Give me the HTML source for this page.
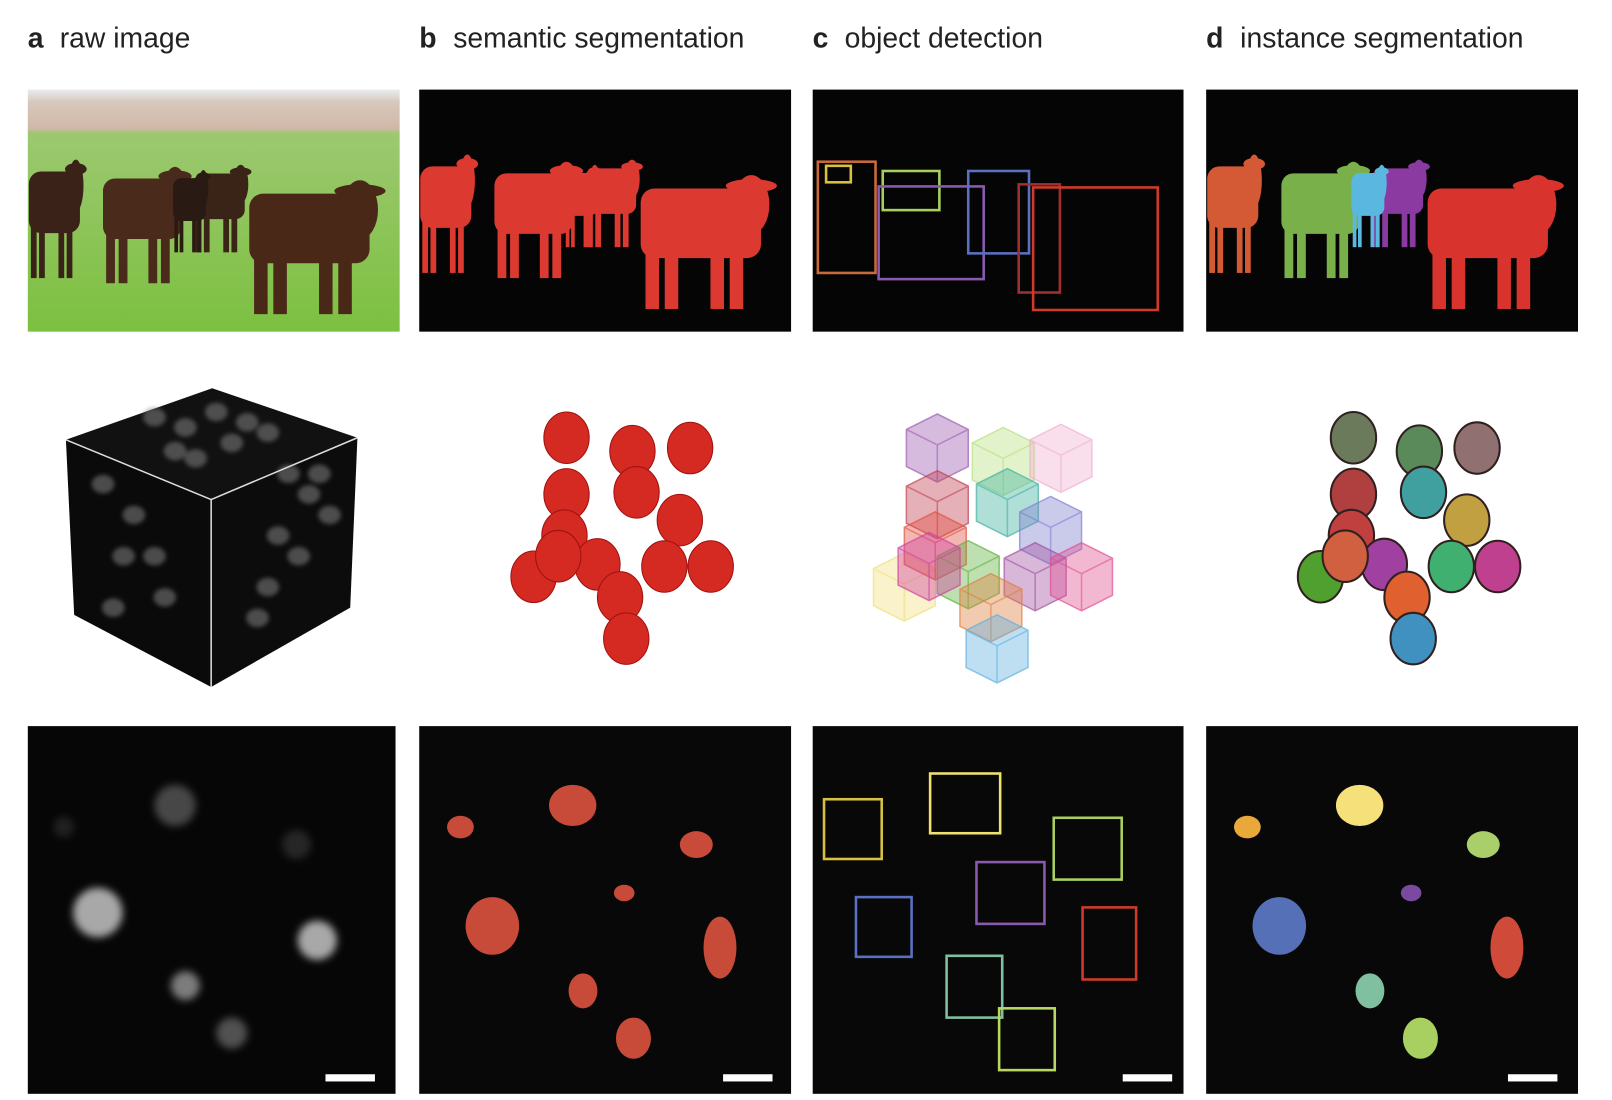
<!DOCTYPE html>
<html><head><meta charset="utf-8"><style>
html,body{margin:0;padding:0;background:#fff;}
svg{display:block;font-family:"Liberation Sans",sans-serif;}
</style></head><body>
<svg id="fig" width="1612" height="1100" viewBox="0 0 1565 1068" preserveAspectRatio="none" xmlns="http://www.w3.org/2000/svg">
<defs>
<filter id="blur3"><feGaussianBlur stdDeviation="4"/></filter>
<filter id="blur1"><feGaussianBlur stdDeviation="2"/></filter>
<linearGradient id="field" x1="0" y1="0" x2="0" y2="1"><stop offset="0" stop-color="#e9ecef"/><stop offset="0.05" stop-color="#d8c8bc"/><stop offset="0.16" stop-color="#d0b8a8"/><stop offset="0.18" stop-color="#9cc870"/><stop offset="1" stop-color="#7cc040"/></linearGradient>
<clipPath id="clipA"><rect x="27" y="87" width="361" height="235"/></clipPath>
<clipPath id="clipB"><rect x="407" y="87" width="361" height="235"/></clipPath>
<clipPath id="clipD"><rect x="1171" y="87" width="361" height="235"/></clipPath>
</defs>
<g font-size="27.5" fill="#222">
<text x="27" y="46" font-weight="bold">a</text>
<text x="58" y="46">raw image</text>
<text x="407" y="46" font-weight="bold">b</text>
<text x="440" y="46">semantic segmentation</text>
<text x="789" y="46" font-weight="bold">c</text>
<text x="820" y="46">object detection</text>
<text x="1171" y="46" font-weight="bold">d</text>
<text x="1204" y="46">instance segmentation</text>
</g>
<rect x="27" y="87" width="361" height="235" fill="url(#field)"/>
<rect x="407" y="87" width="361" height="235" fill="#050505"/>
<rect x="789" y="87" width="360" height="235" fill="#050505"/>
<rect x="1171" y="87" width="361" height="235" fill="#050505"/>
<g id="cowsA" clip-path="url(#clipA)"></g>
<g id="cowsB" clip-path="url(#clipB)"></g>
<g id="cowsD" clip-path="url(#clipD)"></g>
<g id="cowboxes"></g>
<g>
<polygon points="64,427 206,377 347,425 205,485" fill="#111"/>
<polygon points="64,427 205,485 205,667 72,597" fill="#0a0a0a"/>
<polygon points="205,485 347,425 340,590 205,667" fill="#0c0c0c"/>
<g id="cubeNuc" filter="url(#blur1)"></g>
<polyline points="64,427 205,485 347,425" fill="none" stroke="#ddd" stroke-width="1.5"/>
<line x1="205" y1="485" x2="205" y2="667" stroke="#ddd" stroke-width="1.5"/>
</g>
<g id="row2"></g>
<rect x="27" y="705" width="357" height="357" fill="#060606"/>
<rect x="407" y="705" width="361" height="357" fill="#080808"/>
<rect x="789" y="705" width="360" height="357" fill="#080808"/>
<rect x="1171" y="705" width="361" height="357" fill="#080808"/>
<g id="row3"></g>
<rect x="316" y="1043" width="48" height="7" fill="#fff"/>
<rect x="702" y="1043" width="48" height="7" fill="#fff"/>
<rect x="1090" y="1043" width="48" height="7" fill="#fff"/>
<rect x="1464" y="1043" width="48" height="7" fill="#fff"/>
</svg>
<script>
var NS="http://www.w3.org/2000/svg";
var cowX=[408,480,568,622,548];
var cowY=[150,157,155,170,160];
var cowW=[62,95,62,146,40];
var cowH=[115,113,85,130,80];
var cowInst=["#d45a35","#7ab04a","#8a3aa0","#d8342d","#5ab8e0"];
var cowRaw=["#3a2218","#4a2a1a","#3a2418","#4a2818","#2a1a14"];
var boxX=[794,802,857,853,940,989,1003];
var boxY=[157,161,166,181,166,179,182];
var boxW=[56,24,55,102,59,40,121];
var boxH=[108,16,38,90,80,105,119];
var boxC=["#c86a3a","#d8c040","#a8d060","#8a5ab0","#5a70c0","#a03030","#d03a2a"];
var nucX=[447,556,676,606,478,699,566,615];
var nucY=[803,782,820,867,899,920,962,1008];
var nucRx=[13,23,16,10,26,16,14,17];
var nucRy=[11,20,13,8,28,30,17,20];
var nucInst=["#e8a83a","#f5e07a","#a8cf6a","#7a4aa0","#5670b8","#d04a3a","#80c0a0","#a8d060"];
var rawX=[95,308,180,225,170,288,62];
var rawY=[886,913,957,1003,782,820,803];
var rawR=[24,19,14,15,20,14,10];
var rawL=[0.75,0.75,0.55,0.35,0.3,0.15,0.12];
var dBoxX=[800,903,1023,948,831,1051,919,970];
var dBoxY=[776,751,794,837,871,881,928,979];
var dBoxW=[56,68,66,66,54,52,54,54];
var dBoxH=[58,58,60,60,58,70,60,60];
var dBoxC=["#d8c040","#f0e070","#a8d060","#8a5ab0","#5a70c0","#d03a2a","#80c0a0","#b8d860"];
var objX=[550,614,670,550,618,660,518,548,580,645,690,602,608,542];
var objY=[425,438,435,480,478,505,560,520,548,550,550,580,620,540];
var objInst=["#6a7a5a","#5a8a5a","#907070","#b04040","#40a0a0","#c0a040","#50a030","#c04040","#a040a0","#40b070","#c04090","#e06030","#4090c0","#d06040"];
var cubeC=["#9a5ab0","#b8e080","#f0b0d0","#c04050","#40b0a0","#8080d0","#f0e080","#e05040","#60b040","#a050a0","#e05090","#e08040","#60b0e0","#d040a0"];
function el(tag,attrs,parent){var e=document.createElementNS(NS,tag);for(var k in attrs)e.setAttribute(k,attrs[k]);parent.appendChild(e);return e;}
function cow(g,x,y,w,h,c){
  var bw=w*0.8,bh=h*0.52;
  el("rect",{x:x,y:y+h*0.1,width:bw,height:bh,rx:bh*0.2,fill:c},g);
  el("ellipse",{cx:x+bw*0.92,cy:y+h*0.22,rx:w*0.12,ry:h*0.22,fill:c},g);
  el("ellipse",{cx:x+bw*0.92,cy:y+h*0.08,rx:w*0.17,ry:h*0.05,fill:c},g);
  var lx=[0.04,0.2,0.58,0.74];
  for(var i=0;i<4;i++)el("rect",{x:x+bw*lx[i],y:y+h*0.45,width:w*0.09,height:h*0.55,fill:c},g);
}
var gA=document.getElementById("cowsA"),gB=document.getElementById("cowsB"),gD=document.getElementById("cowsD");
for(var i=0;i<cowX.length;i++){
  var g1=el("g",{},gA);
  
  
  cow(g1,cowX[i]-380,cowY[i]+5,cowW[i],cowH[i],cowRaw[i]);
  var g2=el("g",{},gB);
  
  
  cow(g2,cowX[i],cowY[i],cowW[i],cowH[i],"#dc3a30");
  var g3=el("g",{},gD);
  
  
  cow(g3,cowX[i]+764,cowY[i],cowW[i],cowH[i],cowInst[i]);
}
var bg=document.getElementById("cowboxes");
for(var i=0;i<boxX.length;i++){
  var r=el("rect",{x:boxX[i],y:boxY[i],width:boxW[i],height:boxH[i],fill:"none",stroke:boxC[i],"stroke-width":2.5},bg);
  
  
}
var cn=document.getElementById("cubeNuc");
var cnx=[150,180,210,240,260,170,225,190,100,130,120,150,160,110,270,300,290,260,320,250,280,310];
var cny=[405,415,400,410,420,438,430,445,470,500,540,540,580,590,520,480,540,570,500,600,460,460];
for(var i=0;i<cnx.length;i++){var e=el("ellipse",{cx:cnx[i],cy:cny[i],rx:11,ry:9,fill:"#777",opacity:0.6},cn);
  
  }
var r2=document.getElementById("row2");
for(var i=0;i<objX.length;i++){
  var b=el("ellipse",{cx:objX[i],cy:objY[i],rx:22,ry:25,fill:"#d42a22",stroke:"#a01010","stroke-width":1},r2);
  
  
  var d=el("ellipse",{cx:objX[i]+764,cy:objY[i],rx:22,ry:25,fill:objInst[i],stroke:"#302020","stroke-width":2},r2);
  
  
  var cx=objX[i]+360,cy=objY[i]+10,s=30;
  var cg2=el("g",{opacity:0.75},r2);
  
  
  el("polygon",{points:(cx-s)+","+(cy-s*0.6)+" "+cx+","+(cy-s*1.1)+" "+(cx+s)+","+(cy-s*0.6)+" "+(cx+s)+","+(cy+s*0.6)+" "+cx+","+(cy+s*1.1)+" "+(cx-s)+","+(cy+s*0.6),fill:cubeC[i],"fill-opacity":0.55,stroke:cubeC[i],"stroke-width":1.5},cg2);
  el("polyline",{points:(cx-s)+","+(cy-s*0.6)+" "+cx+","+(cy-s*0.1)+" "+(cx+s)+","+(cy-s*0.6),fill:"none",stroke:cubeC[i],"stroke-width":1.5},cg2);
  el("line",{x1:cx,y1:cy-s*0.1,x2:cx,y2:cy+s*1.1,stroke:cubeC[i],"stroke-width":1.5},cg2);
}
var r3=document.getElementById("row3");
var rg=el("g",{filter:"url(#blur3)"},r3);
for(var i=0;i<rawX.length;i++){var e=el("circle",{cx:rawX[i],cy:rawY[i],r:rawR[i],fill:"#ddd",opacity:rawL[i]},rg);
  
  }
for(var i=0;i<nucX.length;i++){
  var a=el("ellipse",{cx:nucX[i],cy:nucY[i],rx:nucRx[i],ry:nucRy[i],fill:"#c84a38"},r3);
  
  
  var c=el("ellipse",{cx:nucX[i]+764,cy:nucY[i],rx:nucRx[i],ry:nucRy[i],fill:nucInst[i]},r3);
  
  
}
for(var i=0;i<dBoxX.length;i++){
  var r=el("rect",{x:dBoxX[i],y:dBoxY[i],width:dBoxW[i],height:dBoxH[i],fill:"none",stroke:dBoxC[i],"stroke-width":2.5},r3);
  
  
}
</script>
</body></html>
